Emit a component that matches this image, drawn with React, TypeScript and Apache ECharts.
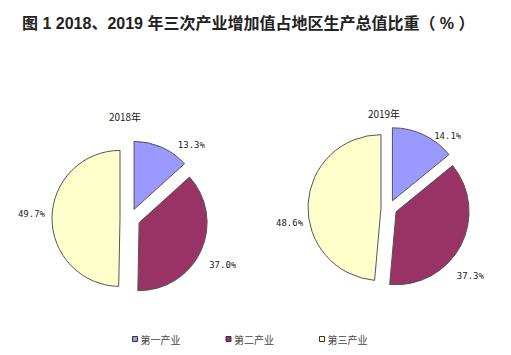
import React, { useEffect, useRef } from "react";
import * as echarts from "echarts";

const TITLE = "图 1 2018、2019 年三次产业增加值占地区生产总值比重（ % ）";
const YEARS = ["2018年", "2019年"];
const CATEGORIES = ["第一产业", "第二产业", "第三产业"];
const VALUES_2018 = [13.3, 37.0, 49.7];
const VALUES_2019 = [14.1, 37.3, 48.6];
const COLORS = ["#9999FF", "#993366", "#FFFFCC"];

// label placement tweaks (layout only)
const LABEL_LINES = [
  [[3, 14], [20, 2], [3, 3]],
  [[1, 6], [15, 2], [3, 3]],
];
const LABEL_NUDGE = [
  [[-4, 1], [-17, 6], [4, -4]],
  [[-1, 2], [-24, 23], [6, 19]],
];

export default function App() {
  const ref = useRef<HTMLDivElement>(null);
  useEffect(() => {
    if (!ref.current) return;
    const chart = echarts.init(ref.current, undefined, { renderer: "svg" });
    const mkSeries = (idx: number, values: number[], center: number[], r: number, offset: number) => ({
      type: "pie",
      name: YEARS[idx],
      center,
      radius: r,
      startAngle: 90,
      clockwise: true,
      selectedMode: "multiple",
      selectedOffset: offset,
      avoidLabelOverlap: false,
      emphasis: { disabled: true },
      itemStyle: { borderColor: "#555", borderWidth: 1 },
      select: { itemStyle: { borderColor: "#555", borderWidth: 1 } },
      label: {
        show: true,
        position: "outside",
        formatter: (p: any) => p.value.toFixed(1) + "%",
        fontFamily: "DejaVu Sans Mono",
        fontSize: 9,
        color: "#222",
      },
      labelLine: { show: false },
      labelLayout: (p: any) => {
        const n = LABEL_NUDGE[idx][p.dataIndex];
        return { dx: n[0], dy: n[1] };
      },
      data: CATEGORIES.map((c, i) => ({
        name: c,
        value: values[i],
        selected: true,
        itemStyle: { color: COLORS[i] },
        labelLine: { show: false, length: LABEL_LINES[idx][i][0], length2: LABEL_LINES[idx][i][1] },
      })),
    });
    chart.setOption({
      animation: false,
      title: {
        text: TITLE,
        left: 17,
        top: 10,
        textStyle: {
          fontFamily: "Liberation Sans, Noto Sans CJK SC, sans-serif",
          fontSize: 16,
          fontWeight: "bold",
          color: "#222",
        },
      },
      legend: {
        data: CATEGORIES,
        left: 127,
        top: 329,
        icon: "rect",
        itemWidth: 5,
        itemHeight: 5,
        itemGap: 45,
        selectedMode: false,
        itemStyle: { borderColor: "#333", borderWidth: 1 },
        textStyle: { fontSize: 10, color: "#444", fontFamily: "Noto Sans CJK SC", padding: [0, 0, 0, -2] },
      },
      graphic: [
        { type: "text", x: 125, y: 116, style: { text: YEARS[0], textAlign: "center", textVerticalAlign: "middle", fontSize: 10, fill: "#222", fontFamily: "Noto Sans CJK SC" } },
        { type: "text", x: 384, y: 113, style: { text: YEARS[1], textAlign: "center", textVerticalAlign: "middle", fontSize: 10, fill: "#222", fontFamily: "Noto Sans CJK SC" } },
      ],
      series: [
        mkSeries(0, VALUES_2018, [130, 218.5], 68, 10),
        mkSeries(1, VALUES_2019, [389, 208], 73, 8),
      ],
    });
    return () => chart.dispose();
  }, []);
  return (
    <div
      ref={ref}
      style={{ position: "fixed", left: 0, top: 0, width: 511, height: 355, background: "#fff" }}
    />
  );
}
